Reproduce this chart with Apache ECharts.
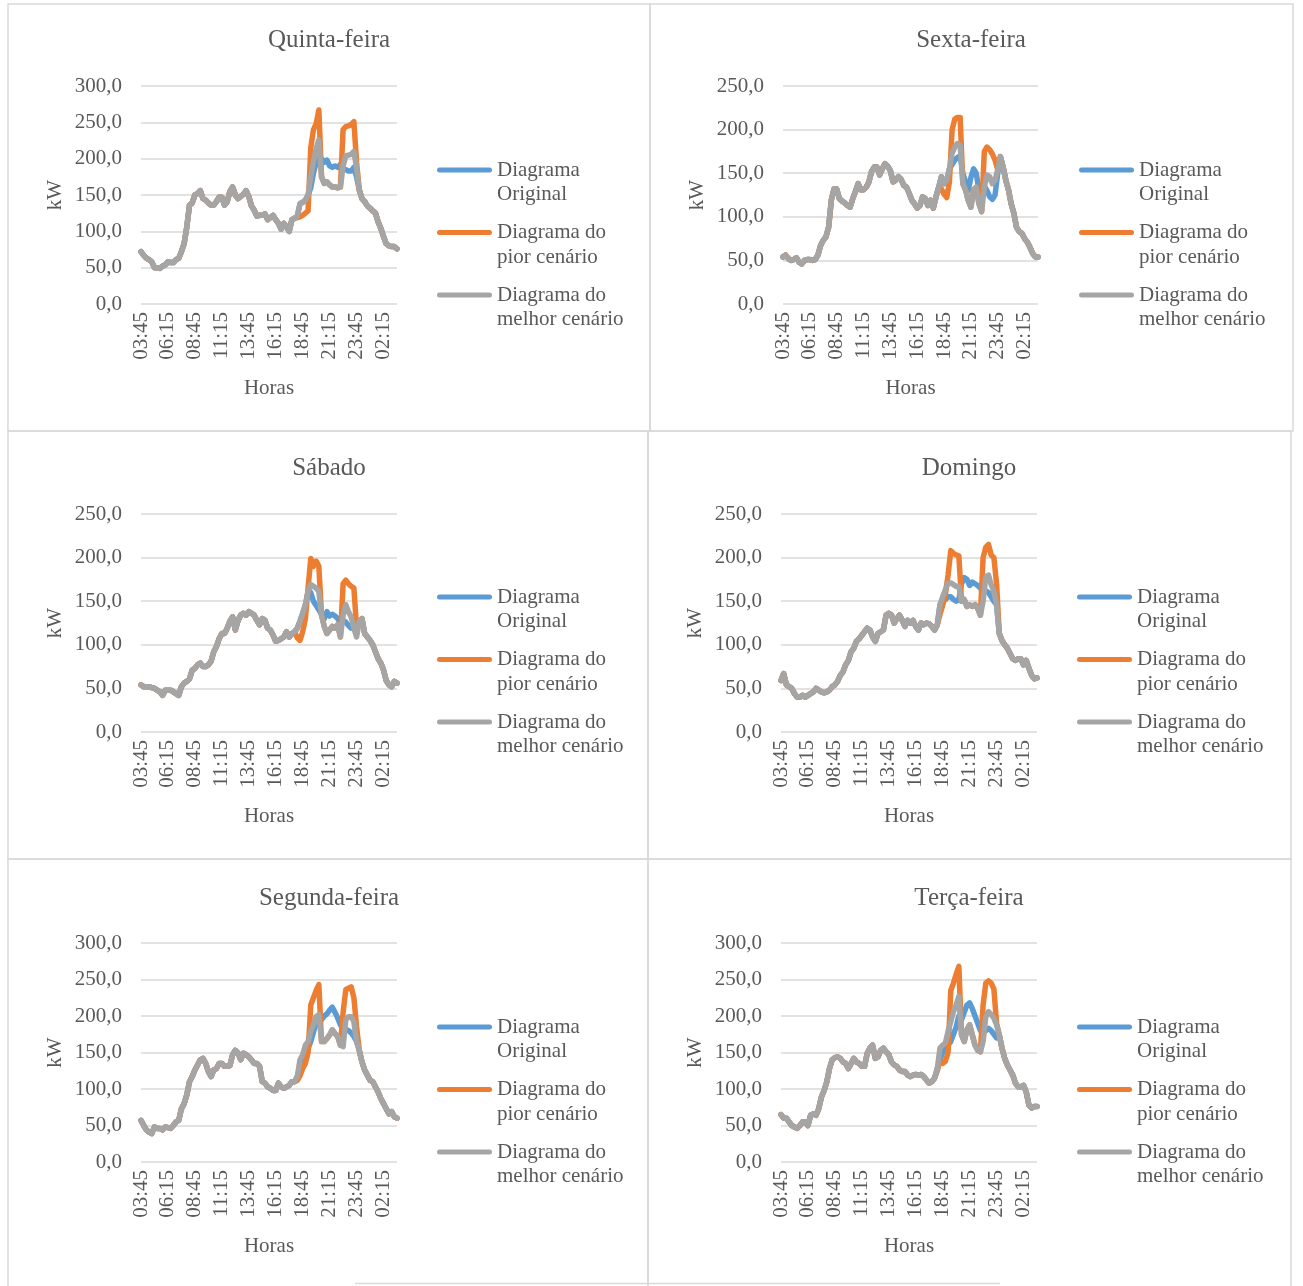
<!DOCTYPE html>
<html>
<head>
<meta charset="utf-8">
<title>Diagramas de carga</title>
<script src="https://cdn.jsdelivr.net/npm/echarts@6/dist/echarts.min.js"></script>
<style>
  html, body { margin: 0; padding: 0; background: #ffffff; }
  #chart { width: 1303px; height: 1286px; }
</style>
</head>
<body>
<div id="chart"></div>
<script>
// Time of day, 15-minute steps starting at 03:45
const horas = [
  '03:45',
  '04:00','04:15','04:30','04:45','05:00','05:15','05:30','05:45',
  '06:00','06:15','06:30','06:45','07:00','07:15','07:30','07:45',
  '08:00','08:15','08:30','08:45','09:00','09:15','09:30','09:45',
  '10:00','10:15','10:30','10:45','11:00','11:15','11:30','11:45',
  '12:00','12:15','12:30','12:45','13:00','13:15','13:30','13:45',
  '14:00','14:15','14:30','14:45','15:00','15:15','15:30','15:45',
  '16:00','16:15','16:30','16:45','17:00','17:15','17:30','17:45',
  '18:00','18:15','18:30','18:45','19:00','19:15','19:30','19:45',
  '20:00','20:15','20:30','20:45','21:00','21:15','21:30','21:45',
  '22:00','22:15','22:30','22:45','23:00','23:15','23:30','23:45',
  '00:00','00:15','00:30','00:45','01:00','01:15','01:30','01:45',
  '02:00','02:15','02:30','02:45','03:00','03:15','03:30'
];

const nomesSeries = ['Diagrama\nOriginal', 'Diagrama do\npior cenário', 'Diagrama do\nmelhor cenário'];
const titulos = ['Quinta-feira', 'Sexta-feira', 'Sábado', 'Domingo', 'Segunda-feira', 'Terça-feira'];
const maximosEixo = [300, 250, 250, 250, 300, 300];

// kW per 15 minutes
const quintaOriginal = [72,67,63,61,58,50,50,49,52,54, 58,57,57,61,63,72,83,106,136,139, 150,152,156,145,143,139,136,136,141,147, 147,136,141,155,161,150,145,148,151,156, 148,135,129,121,122,122,124,116,119,122, 116,111,103,111,106,100,116,118,121,138, 140,143,150,160,180,195,200,200,195,198, 190,188,190,188,192,185,185,183,183,188, 175,157,145,141,135,132,128,125,113,104, 93,83,80,79,79,76];
const quintaPior     = [72,67,63,61,58,50,50,49,52,54, 58,57,57,61,63,72,83,106,136,139, 150,152,156,145,143,139,136,136,141,147, 147,136,141,155,161,150,145,148,151,156, 148,135,129,121,122,122,124,116,119,122, 116,111,103,111,106,100,116,118,119,120, 122,125,128,215,240,248,267,175,166,168, 164,161,161,160,161,240,244,245,247,251, 195,157,145,141,135,132,128,125,113,104, 93,83,80,79,79,76];
const quintaMelhor   = [72,67,63,61,58,50,50,49,52,54, 58,57,57,61,63,72,83,106,136,139, 150,152,156,145,143,139,136,136,141,147, 147,136,141,155,161,150,145,148,151,156, 148,135,129,121,122,122,124,116,119,122, 116,111,103,111,106,100,116,118,121,138, 140,143,150,175,196,214,226,175,166,168, 164,161,161,160,161,190,204,205,206,210, 187,157,145,141,135,132,128,125,113,104, 93,83,80,79,79,76];

const sextaOriginal = [54,56,52,50,51,53,48,46,50,51, 51,50,51,56,67,73,77,88,119,132, 132,121,118,116,113,111,121,129,138,131, 131,134,140,152,157,157,148,155,161,158, 153,140,142,146,143,136,134,127,119,115, 110,113,123,121,113,119,110,123,134,146, 138,142,155,160,165,168,170,150,140,130, 145,155,150,130,125,135,130,123,120,125, 150,169,157,142,131,115,104,88,83,81, 75,71,65,58,54,54];
const sextaPior     = [54,56,52,50,51,53,48,46,50,51, 51,50,51,56,67,73,77,88,119,132, 132,121,118,116,113,111,121,129,138,131, 131,134,140,152,157,157,148,155,161,158, 153,140,142,146,143,136,134,127,119,115, 110,113,123,121,113,119,110,123,134,132, 126,122,140,200,212,214,214,138,131,119, 111,131,134,115,106,175,180,177,172,165, 154,169,157,142,131,115,104,88,83,81, 75,71,65,58,54,54];
const sextaMelhor   = [54,56,52,50,51,53,48,46,50,51, 51,50,51,56,67,73,77,88,119,132, 132,121,118,116,113,111,121,129,138,131, 131,134,140,152,157,157,148,155,161,158, 153,140,142,146,143,136,134,127,119,115, 110,113,123,121,113,119,110,123,134,146, 138,142,155,173,180,184,182,138,131,119, 111,131,134,115,106,134,148,146,138,142, 154,169,157,142,131,115,104,88,83,81, 75,71,65,58,54,54];

const sabadoOriginal = [54,52,52,52,51,50,48,46,42,48, 48,48,46,44,42,52,56,58,61,71, 73,77,79,75,75,77,81,92,98,107, 113,113,119,127,132,117,128,134,136,134, 138,136,134,128,123,130,128,119,117,111, 104,105,107,109,115,109,113,115,119,127, 136,146,161,160,150,145,140,135,130,138, 133,135,133,130,125,128,126,122,119,120, 115,127,130,113,109,105,100,92,84,79, 71,59,54,52,58,56];
const sabadoPior     = [54,52,52,52,51,50,48,46,42,48, 48,48,46,44,42,52,56,58,61,71, 73,77,79,75,75,77,81,92,98,107, 113,113,119,127,132,117,128,134,136,134, 138,136,134,128,123,130,128,119,117,111, 104,105,107,109,115,109,113,115,108,105, 115,130,165,199,190,196,190,134,121,113, 117,121,119,123,109,170,174,170,167,165, 120,127,130,113,109,105,100,92,84,79, 71,59,54,52,58,56];
const sabadoMelhor   = [54,52,52,52,51,50,48,46,42,48, 48,48,46,44,42,52,56,58,61,71, 73,77,79,75,75,77,81,92,98,107, 113,113,119,127,132,117,128,134,136,134, 138,136,134,128,123,130,128,119,117,111, 104,105,107,109,115,109,113,115,119,127, 136,146,161,169,167,165,161,134,121,113, 117,121,119,123,109,134,146,138,132,119, 109,127,130,113,109,105,100,92,84,79, 71,59,54,52,58,56];

const domingoOriginal = [59,67,54,52,50,44,40,40,42,40, 42,44,46,50,48,46,45,46,48,52, 54,58,65,69,77,82,92,96,104,107, 111,115,119,117,109,104,113,115,117,134, 136,134,125,130,134,128,121,128,125,128, 121,117,125,123,125,124,121,117,123,146, 150,152,155,155,152,150,152,170,177,175, 168,172,170,168,165,160,162,160,155,150, 146,113,105,100,96,90,84,82,84,84, 77,82,73,65,61,62];
const domingoPior     = [59,67,54,52,50,44,40,40,42,40, 42,44,46,50,48,46,45,46,48,52, 54,58,65,69,77,82,92,96,104,107, 111,115,119,117,109,104,113,115,117,134, 136,134,125,130,134,128,121,128,125,128, 121,117,125,123,125,124,121,117,123,135, 145,158,180,208,205,203,202,150,152,144, 146,144,146,142,134,200,212,215,203,200, 170,113,105,100,96,90,84,82,84,84, 77,82,73,65,61,62];
const domingoMelhor   = [59,67,54,52,50,44,40,40,42,40, 42,44,46,50,48,46,45,46,48,52, 54,58,65,69,77,82,92,96,104,107, 111,115,119,117,109,104,113,115,117,134, 136,134,125,130,134,128,121,128,125,128, 121,117,125,123,125,124,121,117,123,146, 155,163,171,171,169,167,167,150,152,144, 146,144,146,142,134,150,178,180,169,161, 146,113,105,100,96,90,84,82,84,84, 77,82,73,65,61,62];

const segundaOriginal = [57,50,44,41,39,48,46,46,44,48, 47,46,50,55,57,73,80,92,110,117, 126,133,140,142,135,124,117,126,128,135, 135,131,131,132,147,153,149,140,149,147, 144,140,135,135,131,110,108,103,101,98, 98,108,103,101,103,105,110,110,117,130, 140,150,155,165,178,190,197,195,200,203, 208,212,205,197,188,182,182,180,177,172, 165,153,137,126,119,112,110,103,96,87, 80,73,66,69,62,60];
const segundaPior     = [57,50,44,41,39,48,46,46,44,48, 47,46,50,55,57,73,80,92,110,117, 126,133,140,142,135,124,117,126,128,135, 135,131,131,132,147,153,149,140,149,147, 144,140,135,135,131,110,108,103,101,98, 98,108,103,101,103,105,110,110,112,118, 128,135,150,215,225,235,243,165,165,169, 174,181,176,172,160,205,236,238,240,225, 185,153,137,126,119,112,110,103,96,87, 80,73,66,69,62,60];
const segundaMelhor   = [57,50,44,41,39,48,46,46,44,48, 47,46,50,55,57,73,80,92,110,117, 126,133,140,142,135,124,117,126,128,135, 135,131,131,132,147,153,149,140,149,147, 144,140,135,135,131,110,108,103,101,98, 98,108,103,101,103,105,110,110,117,140, 147,160,165,179,188,199,202,165,165,169, 174,181,176,172,160,158,195,199,199,192, 165,153,137,126,119,112,110,103,96,87, 80,73,66,69,62,60];

const tercaOriginal = [65,60,60,55,50,48,46,50,55,55, 50,64,66,64,73,89,98,110,128,140, 143,144,142,137,135,128,135,142,137,135, 131,131,149,156,160,142,144,153,156,151, 147,137,133,131,126,124,124,119,117,119, 120,119,120,117,112,108,110,115,128,140, 150,155,160,165,175,185,200,195,205,215, 218,210,200,190,180,178,180,183,180,175, 170,174,156,142,133,126,119,108,103,103, 105,96,78,74,76,76];
const tercaPior     = [65,60,60,55,50,48,46,50,55,55, 50,64,66,64,73,89,98,110,128,140, 143,144,142,137,135,128,135,142,137,135, 131,131,149,156,160,142,144,153,156,151, 147,137,133,131,126,124,124,119,117,119, 120,119,120,117,112,108,110,115,125,138, 135,138,150,235,245,257,268,174,165,181, 188,174,160,153,151,215,245,248,245,237, 190,174,156,142,133,126,119,108,103,103, 105,96,78,74,76,76];
const tercaMelhor   = [65,60,60,55,50,48,46,50,55,55, 50,64,66,64,73,89,98,110,128,140, 143,144,142,137,135,128,135,142,137,135, 131,131,149,156,160,142,144,153,156,151, 147,137,133,131,126,124,124,119,117,119, 120,119,120,117,112,108,110,115,128,156, 160,163,179,192,206,215,227,174,165,181, 188,174,160,153,151,165,199,206,202,197, 188,174,156,142,133,126,119,108,103,103, 105,96,78,74,76,76];

const dadosPorDia = [
  [quintaOriginal, quintaPior, quintaMelhor],
  [sextaOriginal, sextaPior, sextaMelhor],
  [sabadoOriginal, sabadoPior, sabadoMelhor],
  [domingoOriginal, domingoPior, domingoMelhor],
  [segundaOriginal, segundaPior, segundaMelhor],
  [tercaOriginal, tercaPior, tercaMelhor]
];

// Page layout of the six panels (the bottom row runs off the page edge)
const paineis = [
  { box: [8, 4, 642, 427],     grid: [141, 86, 256, 218],  title: [329, 40],  legend: [437, 170] },
  { box: [650, 4, 643, 427],   grid: [783, 86, 255, 218],  title: [971, 40],  legend: [1079, 170] },
  { box: [8, 431, 640, 428],   grid: [141, 514, 256, 218], title: [329, 468], legend: [437, 597] },
  { box: [648, 431, 643, 428], grid: [781, 514, 256, 218], title: [969, 468], legend: [1077, 597] },
  { box: [8, 859, 640, 440],   grid: [141, 943, 256, 219], title: [329, 898], legend: [437, 1027] },
  { box: [648, 859, 643, 440], grid: [781, 943, 256, 219], title: [969, 898], legend: [1077, 1027] }
];

const cores = ['#5B9BD5', '#ED7D31', '#A5A5A5'];
const fonte = '"Liberation Serif", "Times New Roman", serif';
const corTexto = '#595959';
const corGrade = '#D9D9D9';
const passoLegenda = 62.5;
const alturaLinha = 24.5;
// capsule-shaped legend key, like a thick line with round ends
const iconeLegenda = 'path://M2.5,0 L52.5,0 A2.5,2.5 0 0 1 52.5,5 L2.5,5 A2.5,2.5 0 0 1 2.5,0 Z';

const grids = [], xAxes = [], yAxes = [], series = [], legends = [], graphics = [];

paineis.forEach(function (p, i) {
  graphics.push({
    type: 'rect', silent: true,
    shape: { x: p.box[0], y: p.box[1], width: p.box[2], height: p.box[3] },
    style: { fill: 'none', stroke: corGrade, lineWidth: 1.5 }
  });
  graphics.push({
    type: 'text', silent: true, x: p.title[0], y: p.title[1],
    style: { text: titulos[i], font: '25px ' + fonte, fill: corTexto, align: 'center', verticalAlign: 'middle' }
  });

  grids.push({ left: p.grid[0], top: p.grid[1], width: p.grid[2], height: p.grid[3] });

  xAxes.push({
    type: 'category', gridIndex: i, data: horas, boundaryGap: false,
    axisLine: { show: false }, axisTick: { show: false }, splitLine: { show: false },
    axisLabel: { interval: 9, rotate: 90, margin: 8, color: corTexto, fontFamily: fonte, fontSize: 21 },
    name: 'Horas', nameLocation: 'middle', nameGap: 74, nameMoveOverlap: false,
    nameTextStyle: { color: corTexto, fontFamily: fonte, fontSize: 21 }
  });

  yAxes.push({
    type: 'value', gridIndex: i, min: 0, max: maximosEixo[i], interval: 50,
    axisLine: { show: false }, axisTick: { show: false },
    splitLine: { lineStyle: { color: corGrade, width: 1.5 } },
    axisLabel: {
      margin: 19, color: corTexto, fontFamily: fonte, fontSize: 21,
      formatter: function (v) { return v.toFixed(1).replace('.', ','); }
    },
    name: 'kW', nameLocation: 'middle', nameRotate: 90, nameGap: 75, nameMoveOverlap: false,
    nameTextStyle: { color: corTexto, fontFamily: fonte, fontSize: 21 }
  });

  dadosPorDia[i].forEach(function (valores, s) {
    series.push({
      name: nomesSeries[s], type: 'line', xAxisIndex: i, yAxisIndex: i,
      data: valores, symbol: 'none', silent: true,
      lineStyle: { color: cores[s], width: 5.5, cap: 'round', join: 'round' },
      itemStyle: { color: cores[s] },
      emphasis: { disabled: true }
    });
  });

  nomesSeries.forEach(function (nome, s) {
    legends.push({
      data: [nome], orient: 'vertical', padding: 0,
      left: p.legend[0],
      top: p.legend[1] + s * passoLegenda - alturaLinha * 1.5,
      icon: iconeLegenda, itemWidth: 55, itemHeight: 5, selectedMode: false,
      // a blank first line keeps the key level with the first line of its text
      formatter: function (n) { return ' \n' + n; },
      textStyle: { color: corTexto, fontFamily: fonte, fontSize: 21, lineHeight: alturaLinha }
    });
  });
});

// short rule along the lower page edge
graphics.push({
  type: 'line', silent: true,
  shape: { x1: 355, y1: 1283.5, x2: 1000, y2: 1283.5 },
  style: { stroke: corGrade, lineWidth: 1.5 }
});

const chart = echarts.init(document.getElementById('chart'), null, { renderer: 'canvas' });
chart.setOption({
  animation: false,
  backgroundColor: '#ffffff',
  grid: grids, xAxis: xAxes, yAxis: yAxes,
  legend: legends, series: series, graphic: graphics
});
</script>
</body>
</html>
